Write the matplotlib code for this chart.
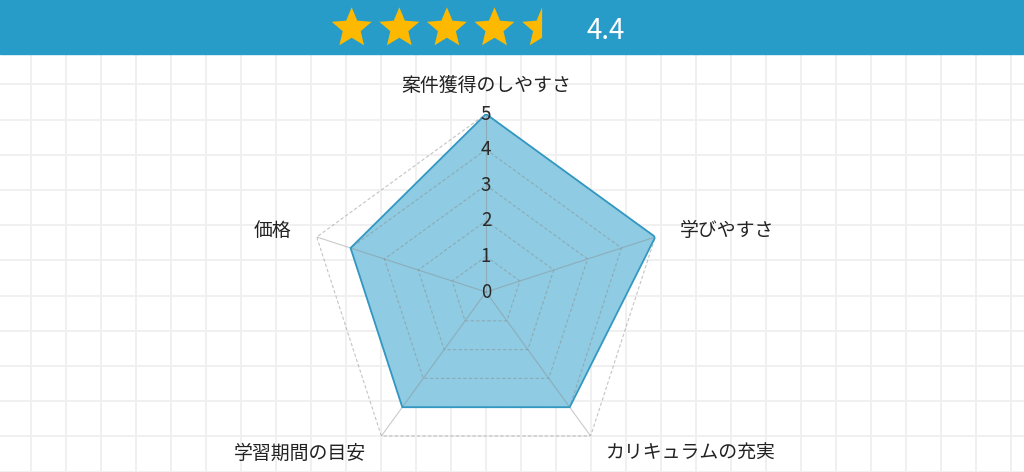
import numpy as np
import matplotlib
matplotlib.use('Agg')
import matplotlib.pyplot as plt
from matplotlib.patches import Polygon, Rectangle

plt.rcParams['font.family'] = ['Noto Sans CJK JP', 'DejaVu Sans']

CATEGORIES = ['案件獲得のしやすさ', '学びやすさ', 'カリキュラムの充実', '学習期間の目安', '価格']
SCORES = [5, 5, 4, 4, 4]
R_TICKS = [0, 1, 2, 3, 4, 5]
RATING = round(float(np.mean(SCORES)), 1)

W, H = 1024, 472
BANNER = '#279cc8'
STAR = '#fdb900'
FILL = '#8fcbe2'
EDGE = '#3298c2'
TEXT = '#222222'


def star_points(cx, cy, R, half=False, inner=0.45):
    ang = np.pi / 2 + np.arange(10) * np.pi / 5
    rad = np.where(np.arange(10) % 2 == 0, R, R * inner)
    pts = np.column_stack([cx + rad * np.cos(ang), cy - rad * np.sin(ang)])
    if half:
        pts = pts[:6]
    return pts


fig = plt.figure(figsize=(W / 100, H / 100), dpi=100)
fig.patch.set_facecolor('white')

# background: graph paper + banner, in pixel coords
bg = fig.add_axes([0, 0, 1, 1])
bg.set_xlim(0, W)
bg.set_ylim(H, 0)
bg.axis('off')
for x in np.arange(30.7, W, 35.0):
    bg.axvline(x, color='#efefef', lw=1.3, zorder=0)
for y in np.arange(84.3 - 35.2, H, 35.2):
    bg.axhline(y, color='#efefef', lw=1.3, zorder=0)
bg.add_patch(Rectangle((0, 0), W, 54, color=BANNER, zorder=3))

n_full = int(RATING)
has_half = (RATING - n_full) >= 0.25
for i in range(n_full + (1 if has_half else 0)):
    pts = star_points(351.7 + i * 47.6, 28.3, 21, half=(i == n_full))
    bg.add_patch(Polygon(pts, closed=True, color=STAR, zorder=4, lw=0))
bg.text(606, 31, f'{RATING}', color='white', fontsize=20, ha='center', va='center',
        zorder=5, family=['Noto Sans CJK JP', 'DejaVu Sans'])

# radar chart
cx, cy, rpx = 486, 292, 178
ax = fig.add_axes([(cx - rpx) / W, (H - cy - rpx) / H, 2 * rpx / W, 2 * rpx / H],
                  projection='polar')
ax.patch.set_alpha(0)
ax.set_theta_zero_location('N')
ax.set_theta_direction(-1)
ax.set_ylim(0, 5)
ax.grid(False)
ax.set_xticks([])
ax.set_yticks([])
ax.spines['polar'].set_visible(False)

n = len(CATEGORIES)
theta = np.arange(n) * 2 * np.pi / n
theta_c = np.append(theta, theta[0])

vals = np.append(SCORES, SCORES[0])
ax.fill(theta_c, vals, color=FILL, zorder=2, lw=0)
ax.plot(theta_c, vals, color=EDGE, lw=1.3, zorder=4)

for r in R_TICKS[1:]:
    ax.plot(theta_c, [r] * (n + 1), color='#8a8a8a', alpha=0.5, lw=0.8,
            ls=(0, (3, 2)), zorder=3)
for t in theta:
    ax.plot([t, t], [0, 5], color='#8a8a8a', alpha=0.45, lw=0.8, zorder=3)

for r in R_TICKS:
    ax.text(0, r, str(r), ha='center', va='center', fontsize=13.5, color='#2a2a2a',
            zorder=6)

label_pos = [
    (0.0, 5.8, 'center'),
    (np.deg2rad(72.5), 5.72, 'left'),
    (np.deg2rad(143.5), 5.65, 'left'),
    (np.deg2rad(216.5), 5.65, 'right'),
    (np.deg2rad(287.5), 5.72, 'right'),
]
for name, (t, r, ha) in zip(CATEGORIES, label_pos):
    ax.text(t, r, name, ha=ha, va='center', fontsize=13.6, color=TEXT, zorder=6,
            clip_on=False)

fig.savefig('out.png', dpi=100)
